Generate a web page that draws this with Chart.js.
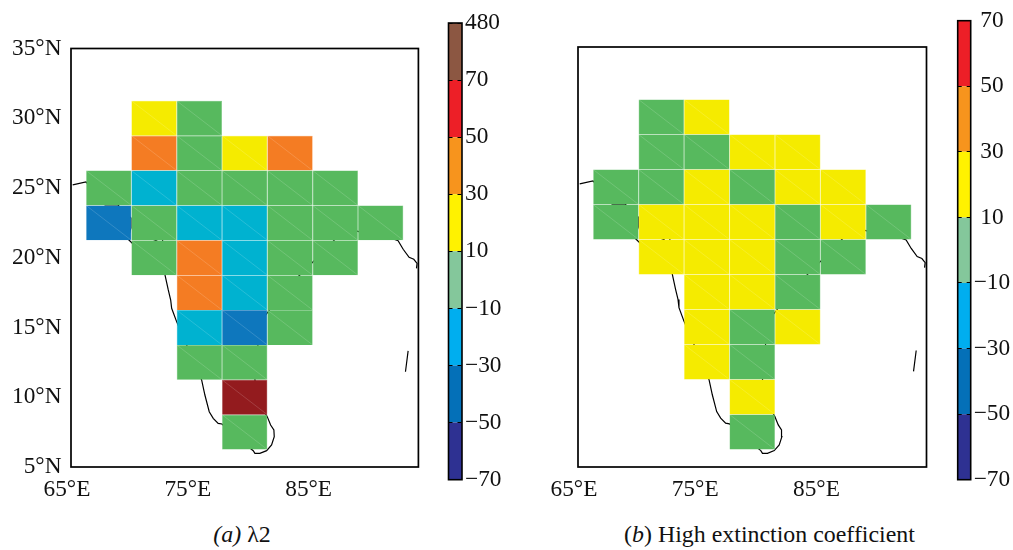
<!DOCTYPE html>
<html>
<head>
<meta charset="utf-8">
<script src="https://cdn.jsdelivr.net/npm/chart.js@4"></script>
<style>
html,body{margin:0;padding:0;background:#fff;width:1013px;height:550px;overflow:hidden}
canvas{position:absolute}
.cap{position:absolute;font-family:"Liberation Serif",serif;font-size:23.9px;color:#111;white-space:nowrap;transform:translateX(-50%);top:521px}
</style>
</head>
<body>
<canvas id="mapA" width="440" height="507" style="left:0;top:0"></canvas>
<canvas id="barA" width="72" height="500" style="left:440px;top:0"></canvas>
<canvas id="mapB" width="430" height="507" style="left:510px;top:0"></canvas>
<canvas id="barB" width="63" height="500" style="left:950px;top:0"></canvas>
<div class="cap" style="left:242px"><i>(a)</i> λ2</div>
<div class="cap" style="left:769.5px">(<i>b</i>) High extinction coefficient</div>
<script>
const lonCenters = [68.125, 71.875, 75.625, 79.375, 83.125, 86.875, 90.625];
const latCenters = [30, 27.5, 25, 22.5, 20, 17.5, 15, 12.5, 10, 7.5];
const _ = null;
const valuesA = [
  [_, 20, 0, _, _, _, _],
  [_, 40, 0, 20, 40, _, _],
  [0, -20, 0, 0, 0, 0, _],
  [-40, 0, -20, -20, 0, 0, 0],
  [_, 0, 40, -20, 0, 0, _],
  [_, _, 40, -20, 0, _, _],
  [_, _, -20, -40, 0, _, _],
  [_, _, 0, 0, _, _, _],
  [_, _, _, 120, _, _, _],
  [_, _, _, 0, _, _, _]
];
const valuesB = [
  [_, 0, 20, _, _, _, _],
  [_, 0, 0, 20, 20, _, _],
  [0, 0, 20, 0, 20, 20, _],
  [0, 20, 20, 20, 0, 20, 0],
  [_, 20, 20, 20, 0, 0, _],
  [_, _, 20, 20, 0, _, _],
  [_, _, 20, 0, 20, _, _],
  [_, _, 20, 0, _, _, _],
  [_, _, _, 20, _, _, _],
  [_, _, _, 0, _, _, _]
];
const coastLon = [65.14,66.24,66.90,67.81,68.89,69.96,69.96,69.71,70.13,70.71,72.11,72.53,72.61,72.53,72.80,73.05,73.25,73.33,73.74,74.57,75.81,76.08,76.44,76.77,77.18,77.49,78.98,80.08,80.22,80.63,81.19,81.60,81.82,81.79,81.52,81.24,80.47,80.22,80.47,80.80,82.70,84.35,86.42,87.66,88.90,89.90,90.97,92.07,92.49,92.98,93.37,93.64,93.59];
const coastLat = [25.22,25.43,24.86,23.78,23.78,22.85,22.13,21.34,20.99,20.77,21.27,21.77,20.91,19.84,18.69,17.69,16.97,16.38,15.42,13.75,11.24,10.16,8.96,8.49,8.13,8.08,6.94,6.17,5.98,5.98,6.17,6.58,7.17,7.65,8.01,8.61,9.80,11.24,13.75,15.54,17.69,19.12,20.91,22.13,21.85,21.85,21.56,21.22,20.61,20.03,19.89,19.60,19.24];
const islandLon = [92.90, 92.68];
const islandLat = [13.32, 11.83];
const lonTicks = [65, 75, 85];
const latTicks = [5, 10, 15, 20, 25, 30, 35];
const mapBins = [-70, -50, -30, -10, 10, 30, 50, 70, 480];
const mapBinColors = ['#2e3192', '#0e77bd', '#00b2d0', '#57b95e', '#f5eb00', '#f47c23', '#ed1c24', '#931b1e'];
const barLabelsA = ['\u221270', '\u221250', '\u221230', '\u221210', '10', '30', '50', '70', '480'];
const barColorsA = ['#2e3192', '#0470b8', '#00aeef', '#84c79b', '#fff200', '#f7941d', '#ed1f27', '#8c5742'];
const barLabelsB = ['\u221270', '\u221250', '\u221230', '\u221210', '10', '30', '50', '70'];
const barColorsB = ['#2e3192', '#0470b8', '#00aeef', '#84c79b', '#fff200', '#f7941d', '#ed1f27'];

const FONT = {family: '"Liberation Serif", serif', size: 23.3};
const TEXT = '#111';
Chart.defaults.animation = false;
Chart.defaults.responsive = false;

const frame = {
  id: 'frame',
  afterDraw(chart, args, opts) {
    const a = chart.chartArea, c = chart.ctx;
    c.save();
    c.strokeStyle = '#000';
    c.lineWidth = opts.width;
    c.strokeRect(a.left, a.top, a.right - a.left, a.bottom - a.top);
    c.restore();
  }
};
function colorFor(v) {
  for (let i = 0; i < mapBinColors.length; i++) if (v < mapBins[i + 1]) return mapBinColors[i];
  return mapBinColors[mapBinColors.length - 1];
}
function makeMap(id, values, yAxisWidth, showLat, pad) {
  const cells = [], fills = [], diag = [];
  values.forEach((row, r) => row.forEach((v, c) => {
    if (v === null) return;
    const lon = lonCenters[c], lat = latCenters[r];
    cells.push({x: lon, y: [lat - 1.25, lat + 1.25]});
    fills.push(colorFor(v));
    diag.push({x: lon - 1.875, y: lat + 1.25}, {x: lon + 1.875, y: lat - 1.25}, {x: null, y: null});
  }));
  const coast = coastLon.map((x, i) => ({x, y: coastLat[i]}));
  coast.push({x: null, y: null});
  islandLon.forEach((x, i) => coast.push({x, y: islandLat[i]}));
  new Chart(document.getElementById(id), {
    type: 'bar',
    data: {datasets: [
      {type: 'line', order: 3, data: coast, borderColor: '#000', borderWidth: 1.2, pointRadius: 0, tension: 0, spanGaps: false},
      {type: 'bar', order: 2, data: cells, backgroundColor: fills,
       borderColor: fills.map(c => c + 'd8'), borderWidth: 0.5, inflateAmount: 0,
       barPercentage: 1, categoryPercentage: 1},
      {type: 'line', order: 1, data: diag, borderColor: 'rgba(255,255,255,0.22)', borderWidth: 0.7, pointRadius: 0, tension: 0, spanGaps: false}
    ]},
    options: {
      layout: {padding: pad},
      plugins: {legend: {display: false}, tooltip: {enabled: false}, title: {display: false}, frame: {width: 1.7}},
      scales: {
        x: {
          type: 'linear', min: 65, max: 93.75, offset: false, grid: {display: false, offset: false}, border: {display: false},
          afterBuildTicks: s => { s.ticks = lonTicks.map(value => ({value})); },
          afterFit: s => { s.height = 40; },
          ticks: {font: FONT, color: TEXT, padding: 1, maxRotation: 0, autoSkip: false, labelOffset: -4,
                  callback: v => v + '\u00b0E'}
        },
        y: {
          type: 'linear', min: 5, max: 35, grid: {display: false}, border: {display: false},
          afterBuildTicks: s => { s.ticks = latTicks.map(value => ({value})); },
          afterFit: s => { s.width = yAxisWidth; },
          ticks: {display: showLat, font: FONT, color: TEXT, padding: 1.5, autoSkip: false,
                  callback: v => v + '\u00b0N'}
        }
      }
    },
    plugins: [frame]
  });
}
function makeBar(id, colors, labels, axisWidth, crossAlign, pad) {
  new Chart(document.getElementById(id), {
    type: 'bar',
    data: {
      labels: ['colour scale'],
      datasets: colors.map((c, i) => ({data: [[i, i + 1]], backgroundColor: c, borderWidth: 0,
        grouped: false, barPercentage: 1, categoryPercentage: 1, inflateAmount: 0}))
    },
    options: {
      layout: {padding: pad},
      plugins: {legend: {display: false}, tooltip: {enabled: false}, frame: {width: 1.6}},
      scales: {
        x: {display: false},
        y: {
          position: 'right', min: 0, max: colors.length,
          grid: {color: '#000', lineWidth: 1, z: 1, drawTicks: false},
          border: {display: false, dash: [4, 5]},
          afterFit: s => { s.width = axisWidth; },
          ticks: {stepSize: 1, autoSkip: false, font: FONT, color: TEXT, padding: 3, crossAlign,
                  callback: v => labels[v]}
        }
      }
    },
    plugins: [frame]
  });
}
makeMap('mapA', valuesA, 71, true, {left: 0, right: 21.6, top: 48.5, bottom: 0});
makeMap('mapB', valuesB, 68, false, {left: 0, right: 13.5, top: 47, bottom: 0});
makeBar('barA', barColorsA, barLabelsA, 50, 'near', {left: 8.5, right: 0, top: 23, bottom: 20.3});
makeBar('barB', barColorsB, barLabelsB, 42.3, 'center', {left: 7.7, right: 0, top: 20.7, bottom: 20.3});
</script>
</body>
</html>
